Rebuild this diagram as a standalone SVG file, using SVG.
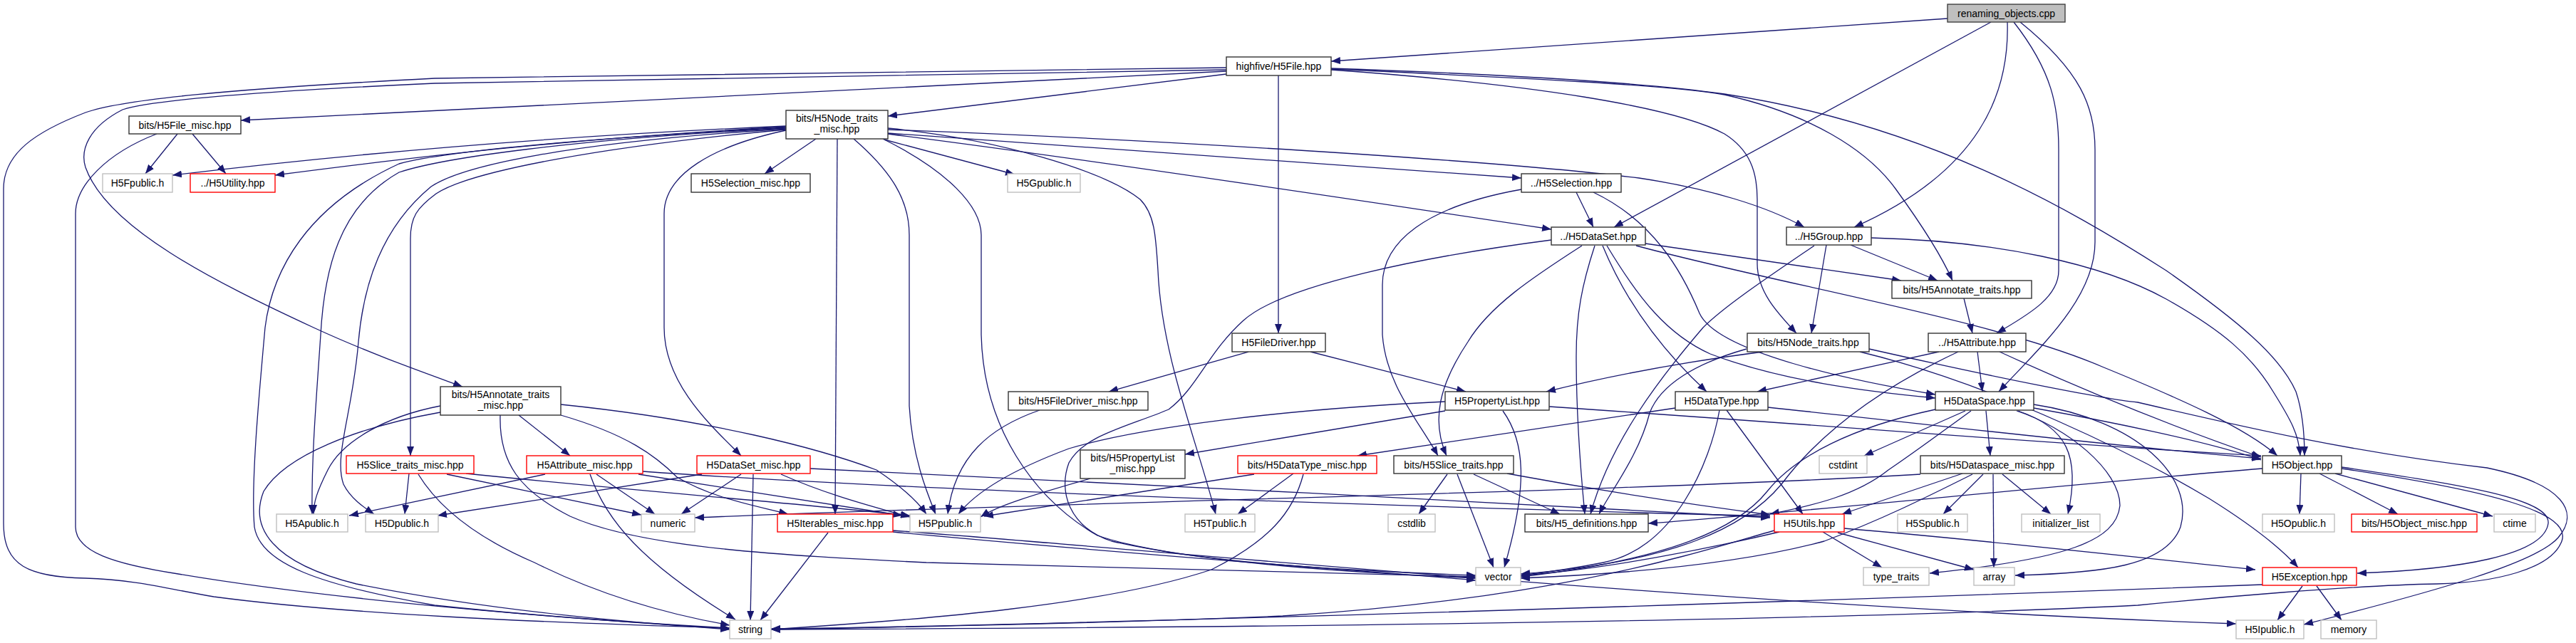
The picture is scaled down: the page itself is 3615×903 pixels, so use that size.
<svg xmlns="http://www.w3.org/2000/svg" width="3615" height="903" viewBox="0 0 3615 903">
<defs>
<marker id="a" markerWidth="14" markerHeight="10" refX="13" refY="5" orient="auto" markerUnits="userSpaceOnUse"><path d="M0,0 L13,5 L0,10 z" fill="#191970"/></marker>
<style>
.n rect{fill:#fff;stroke:#333;stroke-width:1.4}
.g rect{stroke:#bfbfbf}
.r rect{stroke:#ff0000}
.root rect{fill:#bfbfbf;stroke:#404040}
text{font-family:"Liberation Sans",Arial,sans-serif;font-size:14px;text-anchor:middle;fill:#000}
#edges path{fill:none;stroke:#191970;stroke-width:1.3;marker-end:url(#a)}
</style>
</defs>
<rect width="3615" height="903" fill="#fff"/>
<g id="edges">
<path d="M2733,26 L1868,86"/>
<path d="M2794,31 L2265,319"/>
<path d="M2817,31 C2820,130 2780,240 2602,319"/>
<path d="M2826,31 C2880,100 2889,150 2889,210 L2889,380 C2889,420 2840,445 2802,468"/>
<path d="M2835,31 C2920,100 2940,150 2940,210 L2940,340 C2940,420 2860,490 2805,550"/>
<path d="M1721,95 L610,110 C320,125 170,140 120,158 C50,185 5,215 5,265 L5,735 C5,795 40,810 120,812 C190,814 240,828 300,838 C480,862 750,874 1024,882"/>
<path d="M1721,98 L610,117 C390,127 215,140 172,154 C125,178 112,210 120,235 C150,320 300,395 440,460 C520,497 600,525 649,543"/>
<path d="M1721,100 L338,169"/>
<path d="M1721,104 L1246,163"/>
<path d="M1794,106 L1794,468"/>
<path d="M1868,96 C2100,104 2300,115 2420,132 C2700,175 2900,290 3040,380 C3140,450 3200,500 3222,550 C3232,580 3234,610 3234,640"/>
<path d="M1868,97 C2150,110 2350,120 2420,133 C2540,160 2620,210 2660,265 C2700,320 2725,360 2740,394"/>
<path d="M1868,98 C2150,118 2350,150 2420,188 C2455,210 2466,240 2466,280 L2466,370 C2466,410 2495,440 2521,468"/>
<path d="M249,188 L204,244"/>
<path d="M270,188 L317,244"/>
<path d="M220,188 C150,215 106,260 106,300 L106,740 C106,775 160,792 250,806 C450,840 750,866 1024,883"/>
<path d="M1103,177 C800,190 500,215 242,246"/>
<path d="M1103,178 C800,195 600,218 386,246"/>
<path d="M1103,179 C800,196 620,214 560,230 C430,290 382,380 372,460 C363,560 352,680 357,740 C365,792 450,822 610,850 C800,870 950,878 1024,882"/>
<path d="M1103,180 C800,196 620,222 560,242 C475,290 455,380 450,470 C444,560 437,640 438,722"/>
<path d="M1103,181 C800,200 650,232 605,262 C535,320 510,400 503,480 C495,580 468,640 482,680 C492,700 510,712 525,722"/>
<path d="M1103,182 C850,205 660,240 612,272 C585,292 576,305 576,335 L576,640"/>
<path d="M1145,195 L1073,244"/>
<path d="M1103,183 C1000,205 932,245 932,300 L932,460 C932,540 1000,600 1040,640"/>
<path d="M1175,195 L1172,722"/>
<path d="M1198,195 C1250,240 1276,280 1276,330 L1276,570 C1280,640 1300,690 1313,722"/>
<path d="M1239,195 C1330,240 1377,290 1377,330 L1377,470 C1380,600 1450,700 1540,752 C1650,790 1900,802 2071,808"/>
<path d="M1241,196 L1424,245"/>
<path d="M1246,180 C1400,195 1550,240 1600,280 C1620,300 1622,330 1625,380 C1630,500 1680,620 1706,722"/>
<path d="M1246,182 C1600,195 2100,225 2300,250 C2400,265 2480,290 2532,319"/>
<path d="M1246,187 C1600,210 1900,235 2135,250"/>
<path d="M1246,188 C1500,220 1900,280 2177,322"/>
<path d="M2135,266 C2000,290 1940,340 1940,400 L1940,470 C1945,540 1990,590 2018,640"/>
<path d="M2212,270 L2236,319"/>
<path d="M2236,270 C2320,310 2360,380 2385,440 C2410,495 2600,535 2716,554"/>
<path d="M2177,337 C2000,360 1800,400 1745,450 C1695,495 1680,545 1640,575 C1580,600 1520,612 1500,650 C1485,690 1500,740 1560,760 C1700,792 1900,804 2071,812"/>
<path d="M2220,345 C2150,390 2090,430 2060,480 C2020,540 2008,590 2030,640"/>
<path d="M2238,345 C2220,400 2212,440 2212,500 C2212,600 2220,680 2224,722"/>
<path d="M2249,345 C2280,420 2330,490 2395,550"/>
<path d="M2255,345 C2300,420 2340,470 2400,497 C2500,535 2620,550 2716,559"/>
<path d="M2309,342 L2668,394"/>
<path d="M2296,345 C2500,400 2800,450 2950,515 C3060,560 3150,600 3196,640"/>
<path d="M2626,334 C2800,338 2950,370 3040,420 C3120,465 3160,500 3190,550 C3215,590 3226,610 3228,640"/>
<path d="M2546,345 C2480,390 2420,430 2390,460 C2330,530 2260,620 2232,722"/>
<path d="M2563,344 L2542,468"/>
<path d="M2597,344 L2719,394"/>
<path d="M2756,419 L2768,468"/>
<path d="M2474,494 C2350,510 2250,530 2170,550"/>
<path d="M2451,490 C2380,510 2330,540 2315,580 C2300,640 2260,690 2244,722"/>
<path d="M2623,490 C2800,530 2950,560 3000,565 C3150,600 3300,635 3490,657 C3600,680 3620,720 3590,755 C3560,790 3420,830 3233,877"/>
<path d="M2610,494 C2800,540 3000,640 3100,700 C3180,750 3210,780 3225,797"/>
<path d="M2721,494 L2466,550"/>
<path d="M2748,494 C2650,540 2560,600 2500,680 C2450,740 2350,790 2134,806"/>
<path d="M2775,494 L2782,550"/>
<path d="M2806,494 C2950,560 3080,610 3173,642"/>
<path d="M2351,573 L1905,640"/>
<path d="M2423,576 L2530,722"/>
<path d="M2413,576 C2400,650 2350,770 2250,790 C2200,800 2160,805 2134,808"/>
<path d="M2481,572 C2700,595 2950,625 3173,644"/>
<path d="M2758,577 L2616,640"/>
<path d="M2787,577 L2793,640"/>
<path d="M2766,577 C2700,625 2680,640 2650,660 C2600,700 2530,712 2484,722"/>
<path d="M2716,575 C2600,600 2520,640 2480,690 C2440,740 2350,785 2134,810"/>
<path d="M2854,573 C2950,590 3100,620 3173,646"/>
<path d="M2830,577 C2900,600 2975,660 2975,710 C2970,760 2900,785 2708,805"/>
<path d="M2832,577 C2900,600 2920,640 2902,722"/>
<path d="M2854,568 C3000,590 3080,670 3060,740 C3040,795 2950,805 2828,808"/>
<path d="M2695,666 C2300,690 1500,705 975,727"/>
<path d="M2754,665 L2585,722"/>
<path d="M2768,666 C2700,700 2640,730 2560,760 C2450,790 2300,805 2134,812"/>
<path d="M2783,666 L2727,722"/>
<path d="M2797,666 L2798,797"/>
<path d="M2810,666 L2878,722"/>
<path d="M3229,665 L3227,722"/>
<path d="M3255,665 L3365,722"/>
<path d="M3277,665 L3498,725"/>
<path d="M3286,656 C3450,680 3580,700 3576,735 C3570,780 3450,800 3308,805"/>
<path d="M3175,658 C2900,680 2500,722 2313,735"/>
<path d="M3286,658 C3500,690 3610,720 3595,760 C3580,800 3500,818 3420,820 C3300,822 3100,840 3000,850 C2500,875 1600,882 1082,884"/>
<path d="M3231,823 L3196,871"/>
<path d="M3251,823 L3286,871"/>
<path d="M3175,821 C2800,835 1800,870 1082,884"/>
<path d="M2558,747 L2641,797"/>
<path d="M2579,748 L2770,800"/>
<path d="M2588,742 C2800,760 3000,783 3165,800"/>
<path d="M2490,745 C2400,770 2200,840 1800,865 C1500,877 1200,882 1082,883"/>
<path d="M2497,747 C2400,770 2250,800 2134,808"/>
<path d="M2031,666 L1991,722"/>
<path d="M2045,666 L2096,797"/>
<path d="M2068,666 L2189,722"/>
<path d="M2115,665 C2250,690 2400,712 2484,723"/>
<path d="M2028,564 C1800,575 1600,600 1500,630 C1420,660 1370,690 1345,722"/>
<path d="M2028,577 L1663,638"/>
<path d="M2109,577 C2140,620 2145,680 2111,797"/>
<path d="M2174,571 C2600,600 2900,625 3173,640"/>
<path d="M1752,494 L1556,550"/>
<path d="M1839,494 L2057,550"/>
<path d="M1459,576 C1390,600 1340,640 1330,722"/>
<path d="M1530,672 C1450,695 1400,710 1376,726"/>
<path d="M1760,666 L1381,725"/>
<path d="M1815,665 L1737,722"/>
<path d="M1829,666 C1815,720 1780,760 1700,800 C1550,850 1300,870 1082,884"/>
<path d="M618,570 C540,585 480,620 460,660 C445,690 440,705 440,722"/>
<path d="M618,579 C500,600 400,640 370,690 C350,740 380,790 500,820 C700,860 900,875 1024,884"/>
<path d="M728,583 L800,640"/>
<path d="M702,583 C700,650 730,690 800,725 C900,770 1100,780 1300,790 C1600,800 1900,806 2071,810"/>
<path d="M787,583 C880,610 920,640 950,670 C1000,700 1060,710 1106,722"/>
<path d="M787,568 C1000,590 1150,630 1230,660 C1260,680 1285,700 1300,722"/>
<path d="M765,666 L490,724"/>
<path d="M837,666 L919,722"/>
<path d="M828,666 C850,730 900,790 1032,870"/>
<path d="M896,666 L1266,724"/>
<path d="M902,662 C1300,690 2000,712 2484,725"/>
<path d="M985,666 L614,724"/>
<path d="M1040,666 L956,722"/>
<path d="M1057,666 L1053,871"/>
<path d="M1096,666 C1150,690 1200,705 1277,726"/>
<path d="M1137,658 C1500,675 2100,705 2484,727"/>
<path d="M574,665 L568,722"/>
<path d="M587,666 C620,720 680,760 750,790 C850,840 950,865 1024,878"/>
<path d="M627,666 L900,723"/>
<path d="M654,665 C900,690 1100,705 1277,724"/>
<path d="M1162,748 L1067,871"/>
<path d="M1253,747 C1600,780 1900,800 2071,815"/>
<path d="M1253,745 C1600,770 2400,850 3138,876"/>
</g>
<g id="n_root" class="n root"><rect x="2733" y="6" width="165" height="25"/><text x="2815.5" y="24">renaming_objects.cpp</text></g>
<g id="n_h5file" class="n"><rect x="1721" y="80" width="147" height="26"/><text x="1794.5" y="98">highfive/H5File.hpp</text></g>
<g id="n_h5file_misc" class="n"><rect x="181" y="163" width="157" height="25"/><text x="259.5" y="181">bits/H5File_misc.hpp</text></g>
<g id="n_h5fpublic" class="n g"><rect x="144" y="244" width="98" height="26"/><text x="193" y="262">H5Fpublic.h</text></g>
<g id="n_h5utility" class="n r"><rect x="267" y="244" width="119" height="26"/><text x="326.5" y="262">../H5Utility.hpp</text></g>
<g id="n_node_traits_misc" class="n"><rect x="1103" y="155" width="143" height="40"/><text x="1174.5" y="171">bits/H5Node_traits</text><text x="1174.5" y="186">_misc.hpp</text></g>
<g id="n_selection_misc" class="n"><rect x="970" y="244" width="167" height="26"/><text x="1053.5" y="262">H5Selection_misc.hpp</text></g>
<g id="n_h5gpublic" class="n g"><rect x="1414" y="244" width="102" height="26"/><text x="1465" y="262">H5Gpublic.h</text></g>
<g id="n_selection" class="n"><rect x="2135" y="244" width="140" height="26"/><text x="2205" y="262">../H5Selection.hpp</text></g>
<g id="n_dataset" class="n"><rect x="2177" y="319" width="132" height="25"/><text x="2243" y="337">../H5DataSet.hpp</text></g>
<g id="n_group" class="n"><rect x="2507" y="319" width="119" height="25"/><text x="2566.5" y="337">../H5Group.hpp</text></g>
<g id="n_annotate_traits" class="n"><rect x="2655" y="394" width="196" height="25"/><text x="2753" y="412">bits/H5Annotate_traits.hpp</text></g>
<g id="n_filedriver" class="n"><rect x="1729" y="468" width="131" height="26"/><text x="1794.5" y="486">H5FileDriver.hpp</text></g>
<g id="n_filedriver_misc" class="n"><rect x="1415" y="550" width="196" height="26"/><text x="1513" y="568">bits/H5FileDriver_misc.hpp</text></g>
<g id="n_propertylist" class="n"><rect x="2028" y="550" width="146" height="26"/><text x="2101" y="568">H5PropertyList.hpp</text></g>
<g id="n_node_traits" class="n"><rect x="2452" y="468" width="171" height="26"/><text x="2537.5" y="486">bits/H5Node_traits.hpp</text></g>
<g id="n_attribute" class="n"><rect x="2706" y="468" width="137" height="26"/><text x="2774.5" y="486">../H5Attribute.hpp</text></g>
<g id="n_datatype" class="n"><rect x="2351" y="550" width="130" height="26"/><text x="2416" y="568">H5DataType.hpp</text></g>
<g id="n_dataspace" class="n"><rect x="2716" y="550" width="138" height="26"/><text x="2785" y="568">H5DataSpace.hpp</text></g>
<g id="n_annotate_misc" class="n"><rect x="618" y="543" width="169" height="40"/><text x="702.5" y="559">bits/H5Annotate_traits</text><text x="702.5" y="574">_misc.hpp</text></g>
<g id="n_slice_misc" class="n r"><rect x="486" y="640" width="179" height="25"/><text x="575.5" y="658">H5Slice_traits_misc.hpp</text></g>
<g id="n_attribute_misc" class="n r"><rect x="739" y="640" width="163" height="25"/><text x="820.5" y="658">H5Attribute_misc.hpp</text></g>
<g id="n_dataset_misc" class="n r"><rect x="978" y="640" width="159" height="25"/><text x="1057.5" y="658">H5DataSet_misc.hpp</text></g>
<g id="n_plist_misc" class="n"><rect x="1516" y="632" width="147" height="40"/><text x="1589.5" y="648">bits/H5PropertyList</text><text x="1589.5" y="663">_misc.hpp</text></g>
<g id="n_datatype_misc" class="n r"><rect x="1737" y="640" width="195" height="25"/><text x="1834.5" y="658">bits/H5DataType_misc.hpp</text></g>
<g id="n_slice_traits" class="n"><rect x="1956" y="640" width="168" height="25"/><text x="2040" y="658">bits/H5Slice_traits.hpp</text></g>
<g id="n_dataspace_misc" class="n"><rect x="2695" y="640" width="202" height="25"/><text x="2796" y="658">bits/H5Dataspace_misc.hpp</text></g>
<g id="n_object" class="n"><rect x="3175" y="640" width="111" height="25"/><text x="3230.5" y="658">H5Object.hpp</text></g>
<g id="n_apublic" class="n g"><rect x="388" y="722" width="100" height="25"/><text x="438" y="740">H5Apublic.h</text></g>
<g id="n_dpublic" class="n g"><rect x="513" y="722" width="102" height="25"/><text x="564" y="740">H5Dpublic.h</text></g>
<g id="n_numeric" class="n g"><rect x="900" y="722" width="75" height="25"/><text x="937.5" y="740">numeric</text></g>
<g id="n_iterables" class="n r"><rect x="1091" y="722" width="162" height="25"/><text x="1172" y="740">H5Iterables_misc.hpp</text></g>
<g id="n_ppublic" class="n g"><rect x="1277" y="722" width="99" height="25"/><text x="1326.5" y="740">H5Ppublic.h</text></g>
<g id="n_tpublic" class="n g"><rect x="1663" y="722" width="98" height="25"/><text x="1712" y="740">H5Tpublic.h</text></g>
<g id="n_cstdlib" class="n g"><rect x="1948" y="722" width="66" height="25"/><text x="1981" y="740">cstdlib</text></g>
<g id="n_definitions" class="n"><rect x="2140" y="722" width="173" height="25"/><text x="2226.5" y="740">bits/H5_definitions.hpp</text></g>
<g id="n_vector" class="n g"><rect x="2071" y="797" width="63" height="25"/><text x="2102.5" y="815">vector</text></g>
<g id="n_cstdint" class="n g"><rect x="2553" y="640" width="67" height="25"/><text x="2586.5" y="658">cstdint</text></g>
<g id="n_utils" class="n r"><rect x="2490" y="722" width="98" height="25"/><text x="2539" y="740">H5Utils.hpp</text></g>
<g id="n_spublic" class="n g"><rect x="2663" y="722" width="98" height="25"/><text x="2712" y="740">H5Spublic.h</text></g>
<g id="n_initlist" class="n g"><rect x="2837" y="722" width="110" height="25"/><text x="2892" y="740">initializer_list</text></g>
<g id="n_typetraits" class="n g"><rect x="2615" y="797" width="92" height="25"/><text x="2661" y="815">type_traits</text></g>
<g id="n_array" class="n g"><rect x="2770" y="797" width="57" height="25"/><text x="2798.5" y="815">array</text></g>
<g id="n_opublic" class="n g"><rect x="3175" y="722" width="101" height="25"/><text x="3225.5" y="740">H5Opublic.h</text></g>
<g id="n_object_misc" class="n r"><rect x="3300" y="722" width="176" height="25"/><text x="3388" y="740">bits/H5Object_misc.hpp</text></g>
<g id="n_ctime" class="n g"><rect x="3500" y="722" width="58" height="25"/><text x="3529" y="740">ctime</text></g>
<g id="n_exception" class="n r"><rect x="3175" y="797" width="132" height="25"/><text x="3241" y="815">H5Exception.hpp</text></g>
<g id="n_ipublic" class="n g"><rect x="3138" y="871" width="95" height="26"/><text x="3185.5" y="889">H5Ipublic.h</text></g>
<g id="n_memory" class="n g"><rect x="3257" y="871" width="78" height="26"/><text x="3296" y="889">memory</text></g>
<g id="n_string" class="n g"><rect x="1024" y="871" width="58" height="26"/><text x="1053" y="889">string</text></g>
</svg>
